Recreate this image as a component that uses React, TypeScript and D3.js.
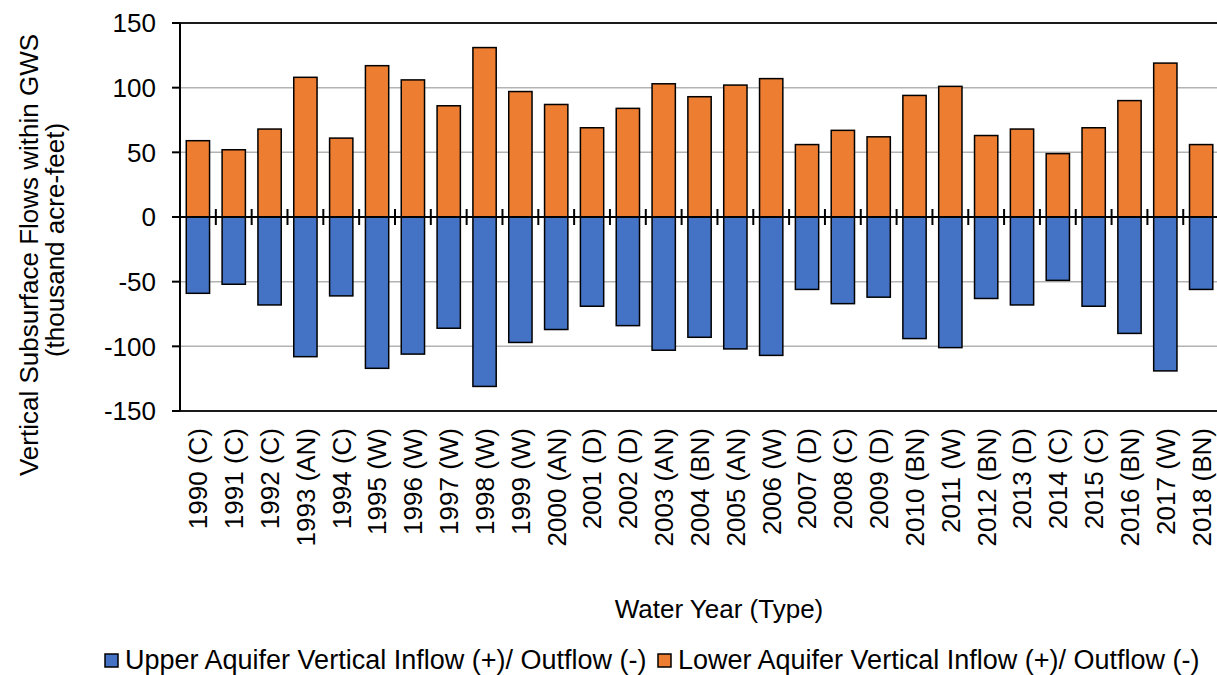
import React from "react";
import * as d3 from "d3";

// Water years with their year-type classification
const years = [
  "1990 (C)", "1991 (C)", "1992 (C)", "1993 (AN)", "1994 (C)", "1995 (W)", "1996 (W)",
  "1997 (W)", "1998 (W)", "1999 (W)", "2000 (AN)", "2001 (D)", "2002 (D)", "2003 (AN)",
  "2004 (BN)", "2005 (AN)", "2006 (W)", "2007 (D)", "2008 (C)", "2009 (D)", "2010 (BN)",
  "2011 (W)", "2012 (BN)", "2013 (D)", "2014 (C)", "2015 (C)", "2016 (BN)", "2017 (W)",
  "2018 (BN)",
];

// Upper aquifer vertical inflow (+) / outflow (-), thousand acre-feet
const upperAquifer = [
  -59, -52, -68, -108, -61, -117, -106, -86, -131, -97, -87, -69, -84, -103, -93, -102,
  -107, -56, -67, -62, -94, -101, -63, -68, -49, -69, -90, -119, -56,
];

// Lower aquifer vertical inflow (+) / outflow (-), thousand acre-feet
const lowerAquifer = [
  59, 52, 68, 108, 61, 117, 106, 86, 131, 97, 87, 69, 84, 103, 93, 102, 107, 56, 67, 62,
  94, 101, 63, 68, 49, 69, 90, 119, 56,
];

const yTicks = [150, 100, 50, 0, -50, -100, -150];

const seriesNames = [
  "Upper Aquifer Vertical Inflow (+)/ Outflow (-)",
  "Lower Aquifer Vertical Inflow (+)/ Outflow (-)",
];

const BLUE = "#4472C4";
const ORANGE = "#ED7D31";
const FONT = "'Liberation Sans', Arial, sans-serif";

export default function App() {
  const width = 1217;
  const height = 675;
  const left = 180;
  const step = 35.83;
  const right = left + step * years.length;
  const top = 23;
  const bottom = 411;

  const x = d3.scaleBand<string>().domain(years).range([left, right]).paddingInner(0.35).paddingOuter(0.175);
  const y = d3.scaleLinear().domain([-150, 150]).range([bottom, top]);
  const y0 = y(0);
  const bw = x.bandwidth();

  return (
    <svg
      width={width}
      height={height}
      style={{ position: "absolute", left: 0, top: 0, background: "#fff" }}
      fontFamily={FONT}
    >
      {/* horizontal gridlines */}
      {yTicks.map((t) => (
        <line
          key={"g" + t}
          x1={left}
          x2={width}
          y1={y(t)}
          y2={y(t)}
          stroke={t === 150 || t === -150 ? "#1a1a1a" : "#b3b3b3"}
          strokeWidth={t === 150 || t === -150 ? 2 : 1.5}
        />
      ))}

      {/* y axis */}
      <line x1={left} x2={left} y1={top} y2={bottom} stroke="#000" strokeWidth={2} />
      {yTicks.map((t) => (
        <g key={"yt" + t}>
          <line x1={left - 8} x2={left} y1={y(t)} y2={y(t)} stroke="#000" strokeWidth={2} />
          <text x={156} y={y(t)} dy="0.36em" textAnchor="end" fontSize={26} fill="#000">
            {t}
          </text>
        </g>
      ))}

      {/* bars */}
      {years.map((yr, i) => (
        <g key={"b" + yr}>
          <rect
            x={x(yr)}
            y={y(lowerAquifer[i])}
            width={bw}
            height={y0 - y(lowerAquifer[i])}
            fill={ORANGE}
            stroke="#000"
            strokeWidth={1.5}
          />
          <rect
            x={x(yr)}
            y={y0}
            width={bw}
            height={y(upperAquifer[i]) - y0}
            fill={BLUE}
            stroke="#000"
            strokeWidth={1.5}
          />
        </g>
      ))}

      {/* x axis through zero with crossing ticks between categories */}
      <line x1={left} x2={width} y1={y0} y2={y0} stroke="#000" strokeWidth={2} />
      {years.slice(1).map((yr) => {
        const bx = (x(yr) as number) - (x.step() - bw) / 2;
        return <line key={"xt" + yr} x1={bx} x2={bx} y1={y0 - 8} y2={y0 + 8} stroke="#000" strokeWidth={2} />;
      })}

      {/* category labels */}
      {years.map((yr) => {
        const cx = (x(yr) as number) + bw / 2;
        return (
          <text
            key={"xl" + yr}
            transform={`translate(${cx},428) rotate(-90)`}
            dy="0.36em"
            textAnchor="end"
            fontSize={26}
            fill="#000"
          >
            {yr}
          </text>
        );
      })}

      {/* axis titles */}
      <text transform="translate(38,255) rotate(-90)" textAnchor="middle" fontSize={26} fill="#000">
        Vertical Subsurface Flows within GWS
      </text>
      <text transform="translate(64,240) rotate(-90)" textAnchor="middle" fontSize={26} fill="#000">
        (thousand acre-feet)
      </text>
      <text x={719} y={618} textAnchor="middle" fontSize={26} fill="#000">
        Water Year (Type)
      </text>

      {/* legend */}
      {[
        { name: seriesNames[0], color: BLUE, x: 105 },
        { name: seriesNames[1], color: ORANGE, x: 658 },
      ].map((d) => (
        <g key={d.name}>
          <rect x={d.x} y={654} width={13} height={13} fill={d.color} stroke="#000" strokeWidth={1.5} />
          <text x={d.x + 20} y={669} fontSize={27} fill="#000">
            {d.name}
          </text>
        </g>
      ))}
    </svg>
  );
}
